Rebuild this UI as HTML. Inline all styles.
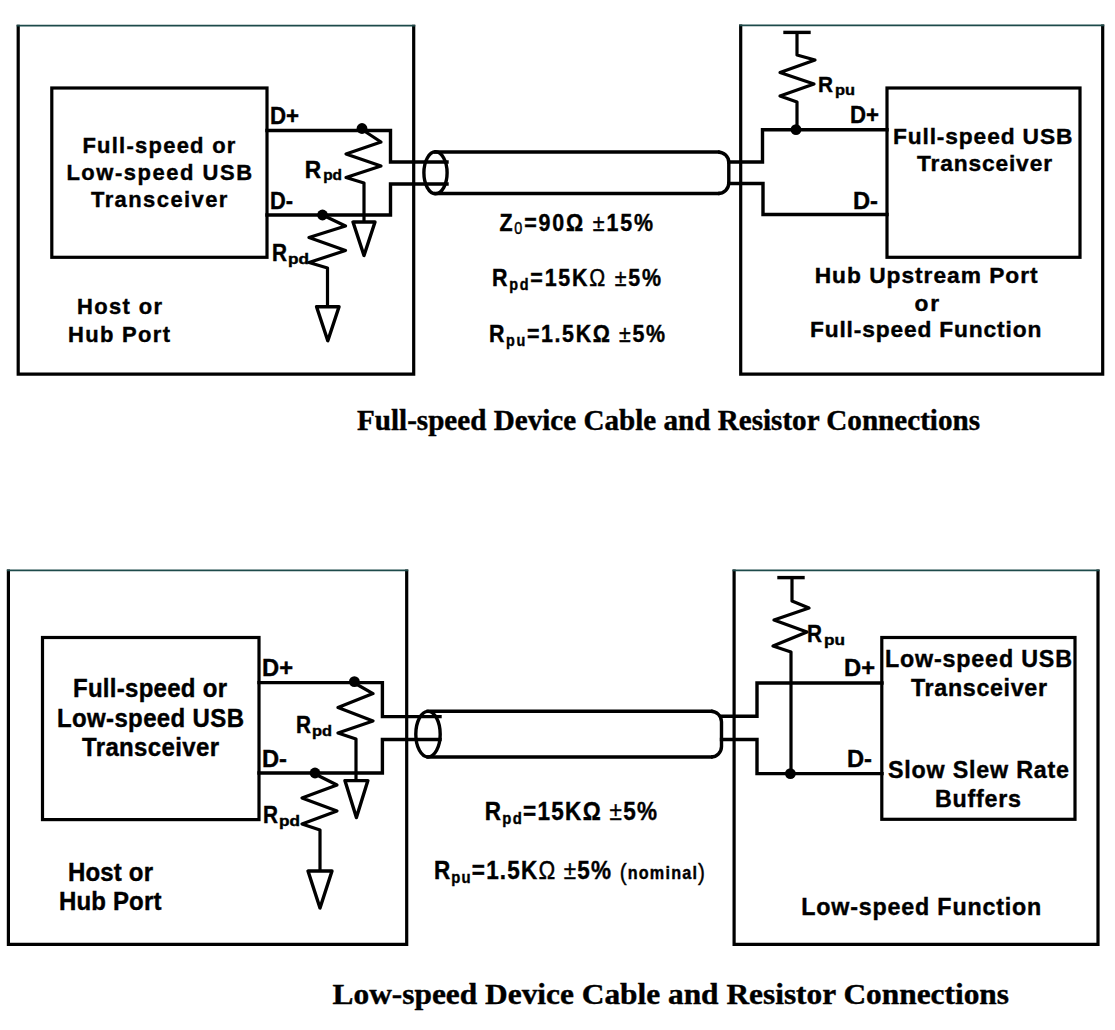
<!DOCTYPE html>
<html><head><meta charset="utf-8"><style>
html,body{margin:0;padding:0;background:#fff;overflow:hidden;}
svg{display:block;}
</style></head><body>
<svg width="1115" height="1030" viewBox="0 0 1115 1030">
<rect width="1115" height="1030" fill="#fff"/>
<g fill="#000" stroke="#000" stroke-width="0">
<path d="M18.2,24.8 L18.2,374.2 L413.7,374.2 L413.7,24.8" fill="none" stroke="#000" stroke-width="3.2" stroke-linejoin="miter"/>
<path d="M16.7,25.6 L415.2,25.6" fill="none" stroke="#1d4a4a" stroke-width="1.7"/>
<rect x="51.8" y="88" width="215.2" height="169.3" fill="none" stroke="#000" stroke-width="3.2"/>
<path d="M740.7,24.599999999999998 L740.7,374.2 L1102.7,374.2 L1102.7,24.599999999999998" fill="none" stroke="#000" stroke-width="3.2" stroke-linejoin="miter"/>
<path d="M739.2,25.4 L1104.2,25.4" fill="none" stroke="#1d4a4a" stroke-width="1.7"/>
<rect x="887" y="88" width="193" height="169.3" fill="none" stroke="#000" stroke-width="3.2"/>
<path d="M267,130.5 L390.5,130.5 L390.5,162 L447,162" fill="none" stroke="#000" stroke-width="3.4" stroke-linejoin="miter" stroke-linecap="square"/>
<path d="M267,215 L390.5,215 L390.5,184 L447,184" fill="none" stroke="#000" stroke-width="3.4" stroke-linejoin="miter" stroke-linecap="square"/>
<circle cx="362" cy="128.5" r="5.4" fill="#000"/>
<circle cx="322.5" cy="215" r="5.4" fill="#000"/>
<path d="M362,129.5 L381,142 L346,154 L381,166 L346,177.5 L364,183 L364,222" fill="none" stroke="#000" stroke-width="3.2" stroke-linejoin="round" stroke-linecap="butt"/>
<path d="M353.0,222 L375.0,222 L364,255.5 Z" fill="none" stroke="#000" stroke-width="3.4" stroke-linejoin="round"/>
<path d="M322.5,215 L345.5,226 L309,237.5 L345.5,250.5 L309,262.5 L327.5,268 L327.5,306" fill="none" stroke="#000" stroke-width="3.2" stroke-linejoin="round" stroke-linecap="butt"/>
<path d="M316.55,306.7 L339.05,306.7 L327.8,340.7 Z" fill="none" stroke="#000" stroke-width="3.4" stroke-linejoin="round"/>
<ellipse cx="435.5" cy="172.8" rx="11.6" ry="21" fill="none" stroke="#000" stroke-width="3.4"/>
<path d="M435.5,152 L718,152" fill="none" stroke="#000" stroke-width="3.4" stroke-linejoin="miter" stroke-linecap="square"/>
<path d="M435.5,193.5 L718,193.5" fill="none" stroke="#000" stroke-width="3.4" stroke-linejoin="miter" stroke-linecap="square"/>
<path d="M718,152 A10.8,10.5 0 0 1 728.8,162.5 L728.8,183 A10.8,10.5 0 0 1 718,193.5" fill="none" stroke="#000" stroke-width="3.4"/>
<path d="M728.8,162 L762.5,162 L762.5,129.8 L887,129.8" fill="none" stroke="#000" stroke-width="3.4" stroke-linejoin="miter" stroke-linecap="square"/>
<path d="M728.8,183.5 L763,183.5 L763,214.5 L887,214.5" fill="none" stroke="#000" stroke-width="3.4" stroke-linejoin="miter" stroke-linecap="square"/>
<circle cx="796" cy="129.6" r="5.4" fill="#000"/>
<path d="M797,129.6 L797,102 L780,96 L814,84 L780,72.4 L815,60 L797,55 L797,32.4" fill="none" stroke="#000" stroke-width="3.2" stroke-linejoin="round" stroke-linecap="butt"/>
<path d="M785,32.4 L809,32.4" fill="none" stroke="#000" stroke-width="3.4" stroke-linejoin="miter" stroke-linecap="square"/>
<path d="M8.4,569.5 L8.4,944.4 L406.7,944.4 L406.7,569.5" fill="none" stroke="#000" stroke-width="3.2" stroke-linejoin="miter"/>
<path d="M6.9,570.3 L408.2,570.3" fill="none" stroke="#1d4a4a" stroke-width="1.7"/>
<rect x="42.5" y="637.5" width="216.5" height="182.1" fill="none" stroke="#000" stroke-width="3.2"/>
<path d="M734.1,569.5 L734.1,944.4 L1098,944.4 L1098,569.5" fill="none" stroke="#000" stroke-width="3.2" stroke-linejoin="miter"/>
<path d="M732.6,570.3 L1099.5,570.3" fill="none" stroke="#1d4a4a" stroke-width="1.7"/>
<rect x="881.8" y="637.5" width="193.2" height="181.8" fill="none" stroke="#000" stroke-width="3.2"/>
<path d="M259,682.6 L382.4,682.6 L382.4,716.6 L440,716.6" fill="none" stroke="#000" stroke-width="3.4" stroke-linejoin="miter" stroke-linecap="square"/>
<path d="M259,773 L382.4,773 L382.4,739.5 L440,739.5" fill="none" stroke="#000" stroke-width="3.4" stroke-linejoin="miter" stroke-linecap="square"/>
<circle cx="354.4" cy="681.6" r="5.4" fill="#000"/>
<circle cx="315" cy="773" r="5.4" fill="#000"/>
<path d="M354.4,683 L373,693.6 L338,707.6 L373,721 L338,733 L356,739 L356,780" fill="none" stroke="#000" stroke-width="3.2" stroke-linejoin="round" stroke-linecap="butt"/>
<path d="M344.9,780.6 L367.9,780.6 L356.4,817.6 Z" fill="none" stroke="#000" stroke-width="3.4" stroke-linejoin="round"/>
<path d="M315,774 L337,785 L302,798 L337,811 L302,824 L320,830 L320,871" fill="none" stroke="#000" stroke-width="3.2" stroke-linejoin="round" stroke-linecap="butt"/>
<path d="M308.0,871 L332.0,871 L320,908 Z" fill="none" stroke="#000" stroke-width="3.4" stroke-linejoin="round"/>
<ellipse cx="428" cy="734.2" rx="12.2" ry="22.8" fill="none" stroke="#000" stroke-width="3.4"/>
<path d="M428,711.3 L711,711.3" fill="none" stroke="#000" stroke-width="3.4" stroke-linejoin="miter" stroke-linecap="square"/>
<path d="M428,757 L711,757" fill="none" stroke="#000" stroke-width="3.4" stroke-linejoin="miter" stroke-linecap="square"/>
<path d="M711,711.3 A10.5,10.5 0 0 1 721.5,721.8 L721.5,746.5 A10.5,10.5 0 0 1 711,757" fill="none" stroke="#000" stroke-width="3.4"/>
<path d="M721.5,716.3 L757,716.3 L757,683 L882,683" fill="none" stroke="#000" stroke-width="3.4" stroke-linejoin="miter" stroke-linecap="square"/>
<path d="M721.5,739.5 L757,739.5 L757,773.6 L882,773.6" fill="none" stroke="#000" stroke-width="3.4" stroke-linejoin="miter" stroke-linecap="square"/>
<circle cx="790.4" cy="773.6" r="5.4" fill="#000"/>
<path d="M791,773.6 L791,652 L773,646 L807,632 L774,620 L809,608 L792,601 L792,577.6" fill="none" stroke="#000" stroke-width="3.2" stroke-linejoin="round" stroke-linecap="butt"/>
<path d="M779,577.6 L803,577.6" fill="none" stroke="#000" stroke-width="3.4" stroke-linejoin="miter" stroke-linecap="square"/>
<text transform="scale(0.999,1)" x="82.48" y="153" font-family='"Liberation Sans", sans-serif' font-size="22.0" font-weight="bold" stroke-width="0.4" textLength="153.15" lengthAdjust="spacing">Full-speed or</text>
<text transform="scale(0.999,1)" x="66.47" y="179.6" font-family='"Liberation Sans", sans-serif' font-size="22.0" font-weight="bold" stroke-width="0.4" textLength="185.79" lengthAdjust="spacing">Low-speed USB</text>
<text transform="scale(0.999,1)" x="91.09" y="206.6" font-family='"Liberation Sans", sans-serif' font-size="22.0" font-weight="bold" stroke-width="0.4" textLength="136.54" lengthAdjust="spacing">Transceiver</text>
<text x="269.9" y="123.5" font-family='"Liberation Sans", sans-serif' font-size="23.5" font-weight="bold" stroke-width="0.4" textLength="29.1" lengthAdjust="spacingAndGlyphs">D+</text>
<text x="270" y="209" font-family='"Liberation Sans", sans-serif' font-size="23.5" font-weight="bold" stroke-width="0.4" textLength="23" lengthAdjust="spacingAndGlyphs">D-</text>
<text x="304.7" y="177.6" font-family='"Liberation Sans", sans-serif' font-size="23" font-weight="bold" stroke-width="0.4" textLength="16.4" lengthAdjust="spacingAndGlyphs">R</text>
<text x="323.2" y="180" font-family='"Liberation Sans", sans-serif' font-size="14.8" font-weight="bold" stroke-width="0.4" textLength="18.8" lengthAdjust="spacingAndGlyphs">pd</text>
<text x="272" y="261" font-family='"Liberation Sans", sans-serif' font-size="23" font-weight="bold" stroke-width="0.4" textLength="15" lengthAdjust="spacingAndGlyphs">R</text>
<text x="288" y="263.5" font-family='"Liberation Sans", sans-serif' font-size="14.8" font-weight="bold" stroke-width="0.4" textLength="21" lengthAdjust="spacingAndGlyphs">pd</text>
<text transform="scale(0.999,1)" x="77.08" y="314" font-family='"Liberation Sans", sans-serif' font-size="22.0" font-weight="bold" stroke-width="0.4" textLength="85.09" lengthAdjust="spacing">Host or</text>
<text transform="scale(0.999,1)" x="68.07" y="342" font-family='"Liberation Sans", sans-serif' font-size="22.0" font-weight="bold" stroke-width="0.4" textLength="102.1" lengthAdjust="spacing">Hub Port</text>
<text transform="scale(0.9,1)" x="554.89" y="231" font-family='"Liberation Sans", sans-serif' font-size="23.8" font-weight="bold" stroke-width="0.4" textLength="170.67" lengthAdjust="spacing">Z<tspan font-size="16" font-weight="normal" dy="3">0</tspan><tspan dy="-3">=90Ω </tspan><tspan font-weight="normal">±</tspan><tspan>15%</tspan></text>
<text transform="scale(0.9,1)" x="546.67" y="286" font-family='"Liberation Sans", sans-serif' font-size="23.8" font-weight="bold" stroke-width="0.4" textLength="187.78" lengthAdjust="spacing">R<tspan font-size="16" dy="4">pd</tspan><tspan dy="-4">=15K</tspan><tspan font-weight="normal">Ω ±</tspan><tspan>5%</tspan></text>
<text transform="scale(0.9,1)" x="543.33" y="342.4" font-family='"Liberation Sans", sans-serif' font-size="23.8" font-weight="bold" stroke-width="0.4" textLength="195.56" lengthAdjust="spacing">R<tspan font-size="16" dy="4">pu</tspan><tspan dy="-4">=1.5KΩ </tspan><tspan font-weight="normal">±</tspan><tspan>5%</tspan></text>
<text x="818" y="92" font-family='"Liberation Sans", sans-serif' font-size="22.5" font-weight="bold" stroke-width="0.4" textLength="15" lengthAdjust="spacingAndGlyphs">R</text>
<text x="835" y="94.5" font-family='"Liberation Sans", sans-serif' font-size="14.8" font-weight="bold" stroke-width="0.4" textLength="20" lengthAdjust="spacingAndGlyphs">pu</text>
<text x="850" y="123" font-family='"Liberation Sans", sans-serif' font-size="23.5" font-weight="bold" stroke-width="0.4" textLength="29" lengthAdjust="spacingAndGlyphs">D+</text>
<text x="853" y="209" font-family='"Liberation Sans", sans-serif' font-size="23.5" font-weight="bold" stroke-width="0.4" textLength="25" lengthAdjust="spacingAndGlyphs">D-</text>
<text transform="scale(0.999,1)" x="893.89" y="143.6" font-family='"Liberation Sans", sans-serif' font-size="22.8" font-weight="bold" stroke-width="0.4" textLength="179.58" lengthAdjust="spacing">Full-speed USB</text>
<text transform="scale(0.999,1)" x="917.92" y="171" font-family='"Liberation Sans", sans-serif' font-size="22.8" font-weight="bold" stroke-width="0.4" textLength="135.14" lengthAdjust="spacing">Transceiver</text>
<text transform="scale(0.999,1)" x="815.52" y="282.6" font-family='"Liberation Sans", sans-serif' font-size="22.8" font-weight="bold" stroke-width="0.4" textLength="223.12" lengthAdjust="spacing">Hub Upstream Port</text>
<text transform="scale(0.999,1)" x="915.52" y="310.6" font-family='"Liberation Sans", sans-serif' font-size="22.8" font-weight="bold" stroke-width="0.4" textLength="24.62" lengthAdjust="spacing">or</text>
<text transform="scale(0.999,1)" x="810.81" y="337.5" font-family='"Liberation Sans", sans-serif' font-size="22.8" font-weight="bold" stroke-width="0.4" textLength="231.53" lengthAdjust="spacing">Full-speed Function</text>
<text x="357" y="430" font-family='"Liberation Serif", serif' font-size="28.5" font-weight="bold" stroke-width="0.4" textLength="623" lengthAdjust="spacingAndGlyphs">Full-speed Device Cable and Resistor Connections</text>
<text transform="scale(0.96,1)" x="76.04" y="696.6" font-family='"Liberation Sans", sans-serif' font-size="25.0" font-weight="bold" stroke-width="0.4" textLength="160.42" lengthAdjust="spacing">Full-speed or</text>
<text transform="scale(0.96,1)" x="59.38" y="726.6" font-family='"Liberation Sans", sans-serif' font-size="25.0" font-weight="bold" stroke-width="0.4" textLength="194.79" lengthAdjust="spacing">Low-speed USB</text>
<text transform="scale(0.96,1)" x="85.42" y="756" font-family='"Liberation Sans", sans-serif' font-size="25.0" font-weight="bold" stroke-width="0.4" textLength="142.71" lengthAdjust="spacing">Transceiver</text>
<text x="262" y="676" font-family='"Liberation Sans", sans-serif' font-size="23.5" font-weight="bold" stroke-width="0.4" textLength="31" lengthAdjust="spacingAndGlyphs">D+</text>
<text x="262" y="767" font-family='"Liberation Sans", sans-serif' font-size="23.5" font-weight="bold" stroke-width="0.4" textLength="25" lengthAdjust="spacingAndGlyphs">D-</text>
<text x="296" y="733" font-family='"Liberation Sans", sans-serif' font-size="23.5" font-weight="bold" stroke-width="0.4" textLength="15" lengthAdjust="spacingAndGlyphs">R</text>
<text x="312" y="736" font-family='"Liberation Sans", sans-serif' font-size="15" font-weight="bold" stroke-width="0.4" textLength="20" lengthAdjust="spacingAndGlyphs">pd</text>
<text x="263" y="823" font-family='"Liberation Sans", sans-serif' font-size="23.5" font-weight="bold" stroke-width="0.4" textLength="15" lengthAdjust="spacingAndGlyphs">R</text>
<text x="279" y="826" font-family='"Liberation Sans", sans-serif' font-size="15" font-weight="bold" stroke-width="0.4" textLength="21" lengthAdjust="spacingAndGlyphs">pd</text>
<text transform="scale(0.96,1)" x="70.83" y="881" font-family='"Liberation Sans", sans-serif' font-size="25.0" font-weight="bold" stroke-width="0.4" textLength="88.54" lengthAdjust="spacing">Host or</text>
<text transform="scale(0.96,1)" x="61.46" y="910" font-family='"Liberation Sans", sans-serif' font-size="25.0" font-weight="bold" stroke-width="0.4" textLength="106.67" lengthAdjust="spacing">Hub Port</text>
<text transform="scale(0.9,1)" x="538.56" y="820" font-family='"Liberation Sans", sans-serif' font-size="25" font-weight="bold" stroke-width="0.4" textLength="191.44" lengthAdjust="spacing">R<tspan font-size="16.5" dy="4">pd</tspan><tspan dy="-4">=15KΩ </tspan><tspan font-weight="normal">±</tspan><tspan>5%</tspan></text>
<text transform="scale(0.9,1)" x="482.11" y="879.5" font-family='"Liberation Sans", sans-serif' font-size="25" font-weight="bold" stroke-width="0.4" textLength="301.22" lengthAdjust="spacing">R<tspan font-size="16.5" dy="4">pu</tspan><tspan dy="-4">=1.5K</tspan><tspan font-weight="normal">Ω ±</tspan><tspan>5% </tspan><tspan font-size="23" font-weight="normal" dy="1">(</tspan><tspan font-size="18" dy="-1">nominal</tspan><tspan font-size="23" font-weight="normal" dy="1">)</tspan></text>
<text x="807" y="642" font-family='"Liberation Sans", sans-serif' font-size="23.5" font-weight="bold" stroke-width="0.4" textLength="15" lengthAdjust="spacingAndGlyphs">R</text>
<text x="824" y="645" font-family='"Liberation Sans", sans-serif' font-size="15" font-weight="bold" stroke-width="0.4" textLength="21" lengthAdjust="spacingAndGlyphs">pu</text>
<text x="844" y="676" font-family='"Liberation Sans", sans-serif' font-size="23.5" font-weight="bold" stroke-width="0.4" textLength="31" lengthAdjust="spacingAndGlyphs">D+</text>
<text x="847" y="767" font-family='"Liberation Sans", sans-serif' font-size="23.5" font-weight="bold" stroke-width="0.4" textLength="25" lengthAdjust="spacingAndGlyphs">D-</text>
<text transform="scale(0.97,1)" x="912.37" y="667" font-family='"Liberation Sans", sans-serif' font-size="24.0" font-weight="bold" stroke-width="0.4" textLength="192.78" lengthAdjust="spacing">Low-speed USB</text>
<text transform="scale(0.97,1)" x="939.18" y="696" font-family='"Liberation Sans", sans-serif' font-size="24.0" font-weight="bold" stroke-width="0.4" textLength="140.21" lengthAdjust="spacing">Transceiver</text>
<text transform="scale(0.97,1)" x="915.46" y="778" font-family='"Liberation Sans", sans-serif' font-size="24.0" font-weight="bold" stroke-width="0.4" textLength="186.6" lengthAdjust="spacing">Slow Slew Rate</text>
<text transform="scale(0.97,1)" x="963.92" y="807" font-family='"Liberation Sans", sans-serif' font-size="24.0" font-weight="bold" stroke-width="0.4" textLength="88.66" lengthAdjust="spacing">Buffers</text>
<text transform="scale(0.97,1)" x="825.98" y="914.8" font-family='"Liberation Sans", sans-serif' font-size="24.0" font-weight="bold" stroke-width="0.4" textLength="247.53" lengthAdjust="spacing">Low-speed Function</text>
<text x="332.6" y="1004.4" font-family='"Liberation Serif", serif' font-size="30" font-weight="bold" stroke-width="0.4" textLength="676.4" lengthAdjust="spacingAndGlyphs">Low-speed Device Cable and Resistor Connections</text>
</g>
</svg>
</body></html>
